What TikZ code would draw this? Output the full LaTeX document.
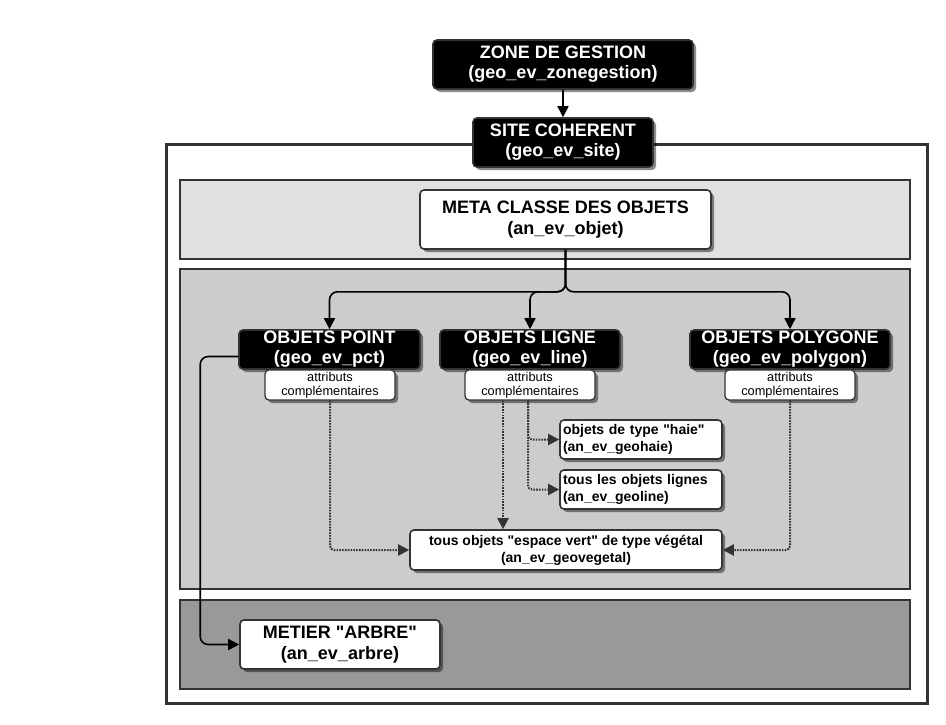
\documentclass[tikz,border=0pt]{standalone}
\usepackage{fontspec}
\setmainfont{Liberation Sans}
\newfontfamily\qfont{Liberation Sans}
\usetikzlibrary{arrows.meta,shadows,calc}
\definecolor{edge}{HTML}{333333}
\definecolor{bandA}{HTML}{E0E0E0}
\definecolor{bandB}{HTML}{CCCCCC}
\definecolor{bandC}{HTML}{999999}
\newcommand{\dq}{{\qfont"}}
\begin{document}
\begin{tikzpicture}[x=1pt,y=-1pt,
  band/.style={draw=edge,line width=2pt},
  boxbase/.style={rounded corners=4pt,draw=edge,line width=1.6pt,inner sep=0pt,align=center,
    drop shadow={shadow xshift=3pt,shadow yshift=-3pt,fill=black,opacity=0.45}},
  darkbox/.style={boxbase,fill=black,text=white,font=\fontsize{18}{20}\selectfont\bfseries},
  whitebox/.style={boxbase,fill=white,text=black,font=\fontsize{18}{21}\selectfont\bfseries},
  attrbox/.style={boxbase,fill=white,text=black,line width=1.3pt,font=\fontsize{12.8}{14}\selectfont},
  smallbox/.style={boxbase,fill=white,text=black,font=\fontsize{14}{17}\selectfont\bfseries},
  conn/.style={draw=black,line width=1.6pt,-{Triangle[length=11pt,width=11pt]}},
  dotconn/.style={draw=edge,line width=2pt,dash pattern=on 1.6pt off 1.2pt,rounded corners=4pt,-{Triangle[length=11pt,width=11pt]}}
]
\useasboundingbox[fill=white] (0,0) rectangle (946,724);
% frames
\draw[draw=edge,line width=3pt,fill=white] (166,144) rectangle (927,703);
\draw[band,fill=bandA] (180,180) rectangle (910,259);
\draw[band,fill=bandB] (180,269) rectangle (910,589);
\draw[band,fill=bandC] (180,600) rectangle (910,689);
% nodes
\node[darkbox,minimum width=260pt,minimum height=49pt] (zone) at (563,64.5) {ZONE DE GESTION\\(geo\_ev\_zonegestion)};
\node[darkbox,minimum width=180pt,minimum height=49pt] (site) at (563,142.5) {SITE COHERENT\\(geo\_ev\_site)};
\node[whitebox,minimum width=291pt,minimum height=59pt] (meta) at (565.5,219.5) {META CLASSE DES OBJETS\\(an\_ev\_objet)};
\node[darkbox,minimum width=181pt,minimum height=39pt] (point) at (329.5,349.5) {OBJETS POINT\\(geo\_ev\_pct)};
\node[darkbox,minimum width=180pt,minimum height=39pt] (ligne) at (530,349.5) {OBJETS LIGNE\\(geo\_ev\_line)};
\node[darkbox,minimum width=200pt,minimum height=39pt] (poly) at (790,349.5) {OBJETS POLYGONE\\(geo\_ev\_polygon)};
\node[attrbox,minimum width=130pt,minimum height=30pt] (apoint) at (330,385) {attributs\\compl\'ementaires};
\node[attrbox,minimum width=130pt,minimum height=30pt] (aligne) at (530,385) {attributs\\compl\'ementaires};
\node[attrbox,minimum width=130pt,minimum height=30pt] (apoly) at (790,385) {attributs\\compl\'ementaires};
\node[smallbox,align=left,minimum width=162pt,minimum height=39pt,text width=156pt] (haie) at (641,439.5) {objets de type \dq haie\dq\\(an\_ev\_geohaie)};
\node[smallbox,align=left,minimum width=162pt,minimum height=39pt,text width=156pt] (geoline) at (641,489.5) {tous les objets lignes\\(an\_ev\_geoline)};
\node[smallbox,minimum width=312pt,minimum height=40pt] (veg) at (566,550) {tous objets \dq espace vert\dq\ de type v\'eg\'etal\\(an\_ev\_geovegetal)};
\node[whitebox,minimum width=200pt,minimum height=49pt] (arbre) at (340,644.5) {METIER \dq ARBRE\dq\\(an\_ev\_arbre)};
% connectors
\draw[conn] (zone.south) -- (site.north);
\coordinate (split) at ($(meta.south)+(0,42)$);
\draw[conn,rounded corners=8pt] (meta.south) -- (split) -| (point.north);
\draw[conn,rounded corners=8pt] (meta.south) -- (split) -| (ligne.north);
\draw[conn,rounded corners=8pt] (meta.south) -- (split) -| (poly.north);
\draw[conn,rounded corners=8pt] ([yshift=-7pt]point.west) -- ++(-38,0) |- (arbre.west);
\draw[dotconn] (apoint.south) |- (veg.west);
\draw[dotconn] (apoly.south) |- (veg.east);
\draw[dotconn] ([xshift=-27pt]aligne.south) -- ([xshift=-27pt]aligne.south |- veg.north);
\draw[dotconn] ([xshift=-2pt]aligne.south) |- (haie.west);
\draw[dotconn] ([xshift=-2pt]aligne.south) |- (geoline.west);
\end{tikzpicture}
\end{document}
